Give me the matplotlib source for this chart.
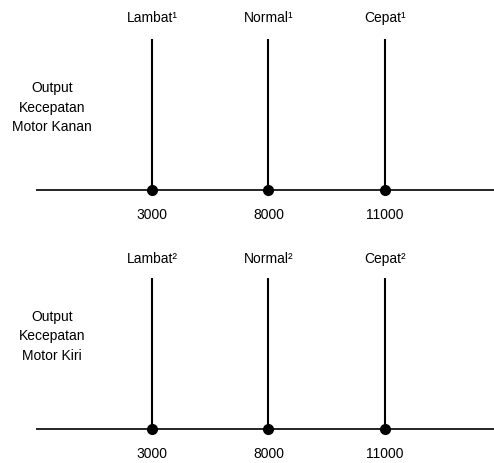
import numpy as np
import matplotlib.pyplot as plt

plt.rcParams['font.family'] = ['Liberation Sans', 'DejaVu Sans']

# crisp output values (singleton membership functions)
values = [3000, 8000, 11000]
labels_kanan = ['Lambat\u00b9', 'Normal\u00b9', 'Cepat\u00b9']
labels_kiri = ['Lambat\u00b2', 'Normal\u00b2', 'Cepat\u00b2']
membership = [1, 1, 1]
panel_titles = ['Output\nKecepatan\nMotor Kanan', 'Output\nKecepatan\nMotor Kiri']

fig = plt.figure(figsize=(4.94, 4.64), dpi=100)

panels = [
    # (axes rect, label list, title, ylim, label y, title y)
    ([0, 0.5, 1, 0.5], labels_kanan, panel_titles[0], (-0.272, 1.265), 1.146, 0.55),
    ([0, 0.0, 1, 0.5], labels_kiri, panel_titles[1], (-0.225, 1.311), 1.132, 0.62),
]

pos = np.arange(len(values))
for rect, labs, title, ylim, ytop, ymid in panels:
    ax = fig.add_axes(rect)
    ax.set_xlim(-1.305, 2.936)
    ax.set_ylim(*ylim)
    ax.axis('off')
    # base line
    ax.plot([-1.0, 2.936], [0, 0], color='black', lw=1.2, solid_capstyle='butt')
    # singletons
    ax.vlines(pos, 0, membership, color='black', lw=1.5)
    ax.plot(pos, np.zeros(len(pos)), 'o', color='black', ms=7)
    for p, lab, v in zip(pos, labs, values):
        ax.text(p, ytop, lab, ha='center', va='center', fontsize=10)
        ax.text(p, -0.159, str(v), ha='center', va='center', fontsize=10)
    ax.text(-0.858, ymid, title, ha='center', va='center', fontsize=10,
            linespacing=1.5)

fig.savefig('out.png', dpi=100)
